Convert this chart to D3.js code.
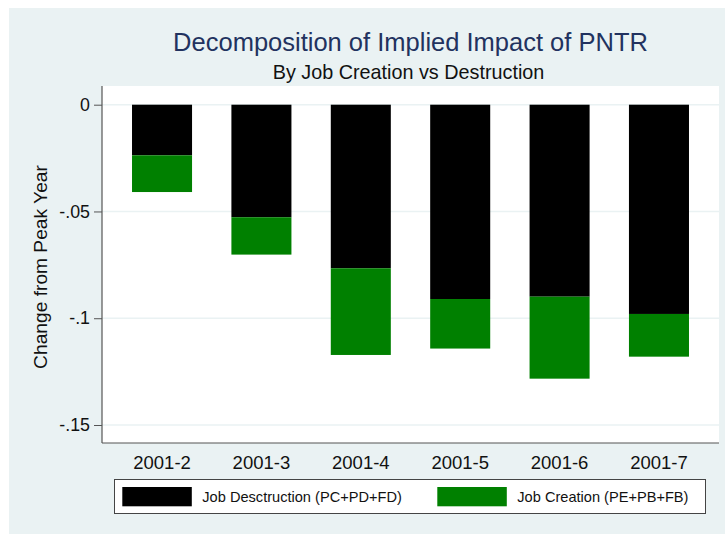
<!DOCTYPE html>
<html lang="en">

<head>
  <meta charset="UTF-8">
  <title>Decomposition of Implied Impact of PNTR</title>
  <script src="https://cdn.jsdelivr.net/npm/d3@7"></script>
  <style>
    body { margin: 0; background: #fff; }
    text { font-family: "Liberation Sans", Arial, Helvetica, sans-serif; }
  </style>
</head>

<body>
  <svg width="725" height="534" id="chart"></svg>
  <script>
    // categories and stacked values (negative = loss from peak year)
    const periods = ['2001-2', '2001-3', '2001-4', '2001-5', '2001-6', '2001-7'];
    const destruction = [-0.0237, -0.0527, -0.0766, -0.0910, -0.0899, -0.0980];
    const creation = [-0.0172, -0.0175, -0.0406, -0.0232, -0.0384, -0.0200];
    const yTicks = [0, -0.05, -0.1, -0.15];
    const tickLabels = ['0', '-.05', '-.1', '-.15'];
    const seriesNames = ['Job Desctruction (PC+PD+FD)', 'Job Creation (PE+PB+FB)'];
    const seriesColors = ['#000000', '#008000'];

    (() => {
      let svg = d3.select('#chart'),
        bg = '#eaf2f3',
        plot = { left: 102, right: 719, top: 86, bottom: 443 };

      // outer background
      svg.append('rect')
        .attr('x', 9).attr('y', 8)
        .attr('width', 716).attr('height', 526)
        .attr('fill', bg);

      // plot area
      svg.append('rect')
        .attr('x', plot.left).attr('y', plot.top)
        .attr('width', plot.right - plot.left).attr('height', plot.bottom - plot.top)
        .attr('fill', '#fff');

      let x = d3.scaleBand()
        .domain(periods)
        .range([plot.left, plot.right])
        .paddingInner(0.396)
        .paddingOuter(0.302);

      let y = d3.scaleLinear()
        .domain([0, -0.15])
        .range([104.7, 425]);

      // grid lines
      svg.append('g')
        .selectAll('line')
        .data(yTicks)
        .enter()
        .append('line')
        .attr('x1', plot.left).attr('x2', plot.right)
        .attr('y1', d => y(d)).attr('y2', d => y(d))
        .attr('stroke', bg)
        .attr('stroke-width', 1.5);

      // stacked bars
      let rows = periods.map((p, i) => ({ period: p, destruction: destruction[i], creation: creation[i] }));
      let stack = d3.stack()
        .keys(['destruction', 'creation'])
        .offset(d3.stackOffsetDiverging);
      let layers = stack(rows);

      svg.append('g')
        .selectAll('g')
        .data(layers)
        .enter()
        .append('g')
        .attr('fill', (d, i) => seriesColors[i])
        .selectAll('rect')
        .data(d => d)
        .enter()
        .append('rect')
        .attr('x', d => x(d.data.period))
        .attr('width', x.bandwidth())
        .attr('y', d => Math.min(y(d[0]), y(d[1])))
        .attr('height', d => Math.abs(y(d[1]) - y(d[0])));

      // y axis
      let yAxis = d3.axisLeft(y)
        .tickValues(yTicks)
        .tickFormat((d, i) => tickLabels[i])
        .tickSize(8)
        .tickPadding(4);

      let gy = svg.append('g')
        .attr('transform', `translate(${plot.left},0)`)
        .call(yAxis);
      gy.select('.domain').remove();
      gy.selectAll('.tick line').attr('stroke', '#555');
      gy.selectAll('.tick text')
        .attr('font-size', '17.8px')
        .attr('fill', '#111')
        .attr('font-family', '"Liberation Sans", Arial, sans-serif');

      svg.append('line')
        .attr('x1', plot.left).attr('x2', plot.left)
        .attr('y1', plot.top).attr('y2', plot.bottom)
        .attr('stroke', '#555').attr('stroke-width', 1.2);

      // x axis (no ticks)
      let xAxis = d3.axisBottom(x).tickSize(0).tickPadding(13);
      let gx = svg.append('g')
        .attr('transform', `translate(0,${plot.bottom})`)
        .call(xAxis);
      gx.select('.domain').remove();
      gx.selectAll('.tick text')
        .attr('font-size', '18.5px')
        .attr('fill', '#111')
        .attr('font-family', '"Liberation Sans", Arial, sans-serif');

      svg.append('line')
        .attr('x1', plot.left).attr('x2', plot.right)
        .attr('y1', plot.bottom).attr('y2', plot.bottom)
        .attr('stroke', '#555').attr('stroke-width', 1.2);

      // y axis title
      svg.append('text')
        .attr('transform', 'translate(46.5,267) rotate(-90)')
        .attr('text-anchor', 'middle')
        .attr('font-size', '19.2px')
        .attr('fill', '#111')
        .text('Change from Peak Year');

      // titles
      let cx = (plot.left + plot.right) / 2;
      svg.append('text')
        .attr('x', cx).attr('y', 51.3)
        .attr('text-anchor', 'middle')
        .attr('font-size', '25.5px')
        .attr('fill', '#22325f')
        .text('Decomposition of Implied Impact of PNTR');

      svg.append('text')
        .attr('x', cx - 2).attr('y', 79)
        .attr('text-anchor', 'middle')
        .attr('font-size', '19.8px')
        .attr('fill', '#111')
        .text('By Job Creation vs Destruction');

      // legend
      let legend = svg.append('g');
      legend.append('rect')
        .attr('x', 114.5).attr('y', 479.5)
        .attr('width', 591).attr('height', 34)
        .attr('fill', '#fff')
        .attr('stroke', '#444');

      let keyX = [122.3, 437.3];
      seriesNames.forEach((name, i) => {
        legend.append('rect')
          .attr('x', keyX[i]).attr('y', 487)
          .attr('width', 69.5).attr('height', 19.3)
          .attr('fill', seriesColors[i]);
        legend.append('text')
          .attr('x', keyX[i] + 80).attr('y', 502)
          .attr('font-size', '14.6px')
          .attr('fill', '#111')
          .text(name);
      });
    })();
  </script>
</body>

</html>
